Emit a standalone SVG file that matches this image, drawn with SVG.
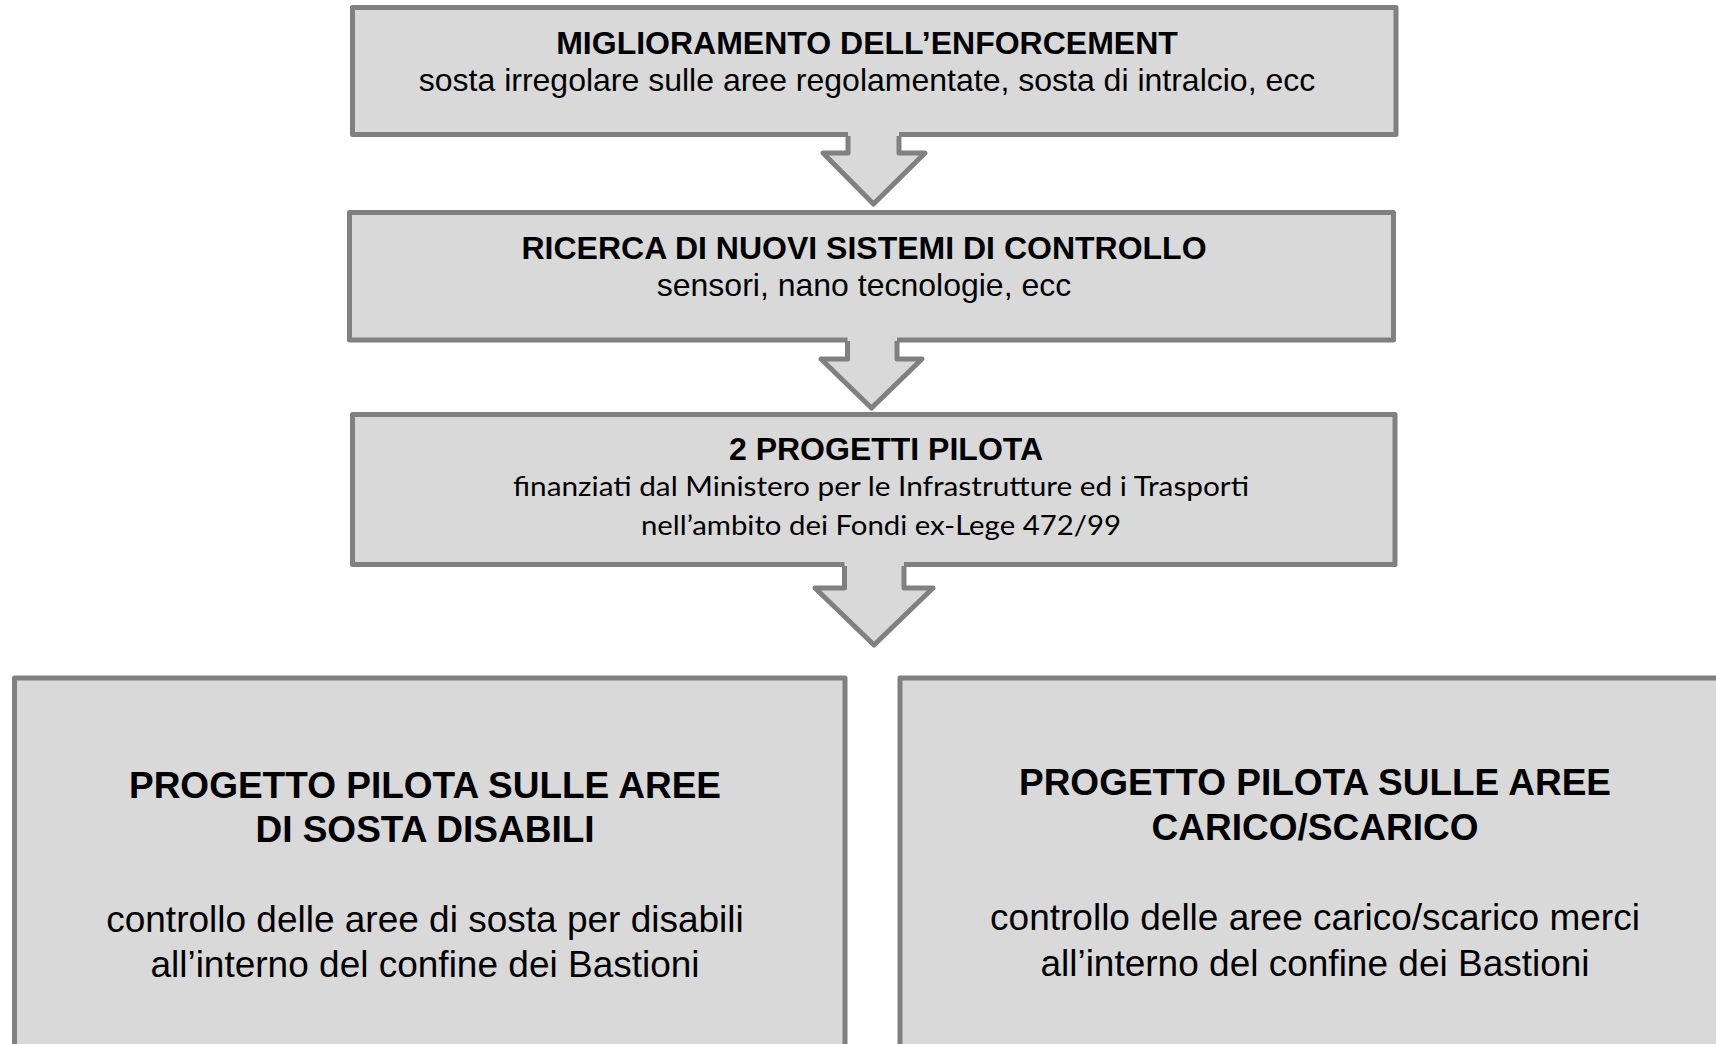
<svg xmlns="http://www.w3.org/2000/svg" width="1716" height="1044" viewBox="0 0 1716 1044">
<style>
.box{fill:#d9d9d9;stroke:#808080;stroke-width:5;stroke-linejoin:round}
.af{fill:#d9d9d9;stroke:none}
.as{fill:none;stroke:#808080;stroke-width:5;stroke-linejoin:round}
.t{font-family:"Liberation Sans",Arial,sans-serif;fill:#000;text-anchor:middle}
.b{font-weight:bold}
.c{font-family:Lato,"Noto Sans",sans-serif;fill:#000;text-anchor:middle}
</style>
<rect width="1716" height="1044" fill="#ffffff"/>
<g id="n1">
<rect class="box" x="352.5" y="7.5" width="1043.5" height="127"/>
<text class="t b" x="867" y="54" font-size="32">MIGLIORAMENTO DELL’ENFORCEMENT</text>
<text class="t" x="867" y="91" font-size="32">sosta irregolare sulle aree regolamentate, sosta di intralcio, ecc</text>
</g>
<g id="n2">
<rect class="box" x="349.5" y="212.5" width="1044" height="127.5"/>
<text class="t b" x="864" y="259" font-size="32">RICERCA DI NUOVI SISTEMI DI CONTROLLO</text>
<text class="t" x="864" y="296" font-size="32">sensori, nano tecnologie, ecc</text>
</g>
<g id="n3">
<rect class="box" x="352.5" y="414.5" width="1042.5" height="150"/>
<text class="t b" x="886" y="460" font-size="32">2 PROGETTI PILOTA</text>
<text class="c" x="881" y="496" font-size="27" textLength="736" lengthAdjust="spacingAndGlyphs">finanziati dal Ministero per le Infrastrutture ed i Trasporti</text>
<text class="c" x="881" y="535" font-size="27" textLength="480" lengthAdjust="spacingAndGlyphs">nell’ambito dei Fondi ex-Lege 472/99</text>
</g>
<g id="n4">
<rect class="box" x="14.5" y="678" width="830.5" height="400"/>
<text class="t b" x="425" y="798" font-size="37">PROGETTO PILOTA SULLE AREE</text>
<text class="t b" x="425" y="842" font-size="37">DI SOSTA DISABILI</text>
<text class="t" x="425" y="932" font-size="37">controllo delle aree di sosta per disabili</text>
<text class="t" x="425" y="977" font-size="37">all’interno del confine dei Bastioni</text>
</g>
<g id="n5">
<rect class="box" x="900" y="678" width="830" height="400"/>
<text class="t b" x="1315" y="795" font-size="37">PROGETTO PILOTA SULLE AREE</text>
<text class="t b" x="1315" y="840" font-size="37">CARICO/SCARICO</text>
<text class="t" x="1315" y="930" font-size="37">controllo delle aree carico/scarico merci</text>
<text class="t" x="1315" y="976" font-size="37">all’interno del confine dei Bastioni</text>
</g>
<g id="connectors">
<polygon class="af" points="848,130 899,130 899,153 925,153 873.5,204 823,153 848,153"/>
<polyline class="as" points="848,136 848,153 823,153 873.5,204 925,153 899,153 899,136"/>
<polygon class="af" points="847.5,335 897,335 897,359 922,359 871.5,408 821,359 847.5,359"/>
<polyline class="as" points="847.5,341 847.5,359 821,359 871.5,408 922,359 897,359 897,341"/>
<polygon class="af" points="844.5,560 904,560 904,588 933,588 874,645 815,588 844.5,588"/>
<polyline class="as" points="844.5,566 844.5,588 815,588 874,645 933,588 904,588 904,566"/>
</g>
</svg>
